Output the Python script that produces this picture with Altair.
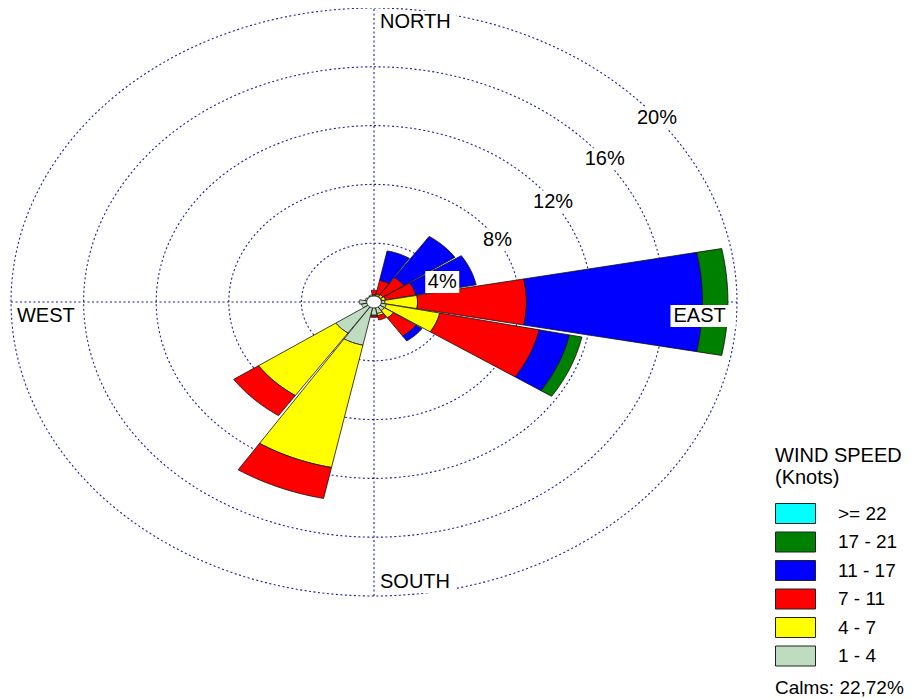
import altair as alt
import numpy as np
import pandas as pd

# ---------------- data (percent frequency) ----------------
directions = ["N", "NNE", "NE", "ENE", "E", "ESE", "SE", "SSE",
              "S", "SSW", "SW", "WSW", "W", "WNW", "NW", "NNW"]
bins = [">= 22", "17 - 21", "11 - 17", "7 - 11", "4 - 7", "1 - 4"]
bin_colors = ["#00FFFF", "#008000", "#0000FF", "#FF0000", "#FFFF00", "#C0DCC0"]

f_1_4 = [0.05, 0.05, 0.05, 0.05, 0.2, 0.3, 0.3, 0.4, 0.5, 2.6, 2.15, 0.3, 0.4, 0.1, 0.05, 0.1]
f_4_7 = [0.05, 0.1, 0.15, 0.2, 1.8, 3.0, 0.6, 0.15, 0.05, 8.5, 5.15, 0.0, 0.0, 0.0, 0.0, 0.0]
f_7_11 = [0.3, 0.95, 1.4, 1.7, 6.0, 5.6, 1.5, 0.3, 0.1, 2.15, 1.65, 0.0, 0.0, 0.0, 0.0, 0.0]
f_11_17 = [0.0, 2.05, 3.4, 3.4, 9.7, 1.7, 0.4, 0.0, 0.0, 0.0, 0.0, 0.0, 0.0, 0.0, 0.0, 0.0]
f_17_21 = [0.0, 0.0, 0.0, 0.0, 1.4, 0.7, 0.0, 0.0, 0.0, 0.0, 0.0, 0.0, 0.0, 0.0, 0.0, 0.0]
f_22 = [0.0] * 16

calms_text = "Calms: 22,72%"
rings = [4, 8, 12, 16, 20]
ring_labels = ["4%", "8%", "12%", "16%", "20%"]
ring_label_bearing = [70.0, 58.3, 55.3, 52.6, 51.2]

compass_labels = ["NORTH", "EAST", "SOUTH", "WEST"]

# stacking order from the centre outwards
stack = [("1 - 4", f_1_4), ("4 - 7", f_4_7), ("7 - 11", f_7_11),
         ("11 - 17", f_11_17), ("17 - 21", f_17_21), (">= 22", f_22)]

CALM_R = 0.4      # radius of the calm circle, in percent
HALF_W = 10.75    # half angular width of a wedge, degrees
N_ARC = 16


def polar(r, bearing_deg):
    t = np.radians(bearing_deg)
    return r * np.sin(t), r * np.cos(t)


# ---------------- geometry in data units ----------------
wedge_rows = []
for i, d in enumerate(directions):
    c = i * 22.5
    r0 = CALM_R
    for b, vals in stack:
        v = vals[i]
        if v <= 0:
            continue
        r1 = r0 + v
        angs = np.linspace(c - HALF_W, c + HALF_W, N_ARC)
        pts = [(r0, a) for a in angs] + [(r1, a) for a in angs[::-1]]
        pts.append(pts[0])
        for k, (r, a) in enumerate(pts):
            x, y = polar(r, a)
            wedge_rows.append({"pid": f"{d}|{b}", "bin": b, "k": k, "x": x, "y": y})
        r0 = r1
wedges = pd.DataFrame(wedge_rows)

ring_rows = []
for r in rings:
    for k, a in enumerate(np.arange(0, 361, 1.5)):
        x, y = polar(r, a)
        ring_rows.append({"ring": r, "k": k, "x": x, "y": y})
ring_df = pd.DataFrame(ring_rows)

calm_rows = []
for k, a in enumerate(np.arange(0, 361, 10)):
    x, y = polar(CALM_R, a)
    calm_rows.append({"k": k, "x": x, "y": y})
calm_df = pd.DataFrame(calm_rows)

axes_df = pd.DataFrame({"x": [-20, 0], "x2": [20, 0], "y": [0, -20], "y2": [0, 20]})

# scales: horizontal 18.15 px per percent, vertical 14.7 px per percent
W, H = 898, 690
PX_X, PX_Y = 18.15, 14.7
X_DOM = [-366 / PX_X, (W - 366) / PX_X]
Y_DOM = [-(H - 294) / PX_Y, 294 / PX_Y]
xs = alt.Scale(domain=X_DOM, nice=False, zero=False)
ys = alt.Scale(domain=Y_DOM, nice=False, zero=False)

# percent labels on the rings
rl_rows = []
for r, t, a in zip(rings, ring_labels, ring_label_bearing):
    x, y = polar(r, a)
    w = (len(t) * 12 + 10) / PX_X / 2
    h = 11 / PX_Y
    rl_rows.append({"t": t, "x": x, "y": y, "bx": x - w, "bx2": x + w, "by": y - h, "by2": y + h})
rl_df = pd.DataFrame(rl_rows)

# compass labels (left edge, centre line)
cp_pos = {"NORTH": (0.33, 19.05), "EAST": (16.5, -0.95), "SOUTH": (0.33, -19.05), "WEST": (-19.67, -0.95)}
cp_rows = []
for t in compass_labels:
    x, y = cp_pos[t]
    w = (len(t) * 14.3 + 5) / PX_X
    h = 11 / PX_Y
    cp_rows.append({"t": t, "x": x, "y": y, "bx": x - 3 / PX_X, "bx2": x + w, "by": y - h, "by2": y + h})
cp_df = pd.DataFrame(cp_rows)

GRID = "#1e1e9c"

ring_layer = alt.Chart(ring_df).mark_line(stroke=GRID, strokeWidth=1.1, strokeDash=[2, 2.5]).encode(
    x=alt.X("x:Q", scale=xs, axis=None),
    y=alt.Y("y:Q", scale=ys, axis=None),
    detail="ring:N",
    order="k:Q",
)

axes_layer = alt.Chart(axes_df).mark_rule(stroke=GRID, strokeWidth=1.1, strokeDash=[2, 2.5]).encode(
    x=alt.X("x:Q", scale=xs, axis=None), x2="x2:Q",
    y=alt.Y("y:Q", scale=ys, axis=None), y2="y2:Q",
)

wedge_layer = alt.Chart(wedges).mark_line(stroke="#111111", strokeWidth=0.8, strokeJoin="miter").encode(
    x=alt.X("x:Q", scale=xs, axis=None),
    y=alt.Y("y:Q", scale=ys, axis=None),
    detail="pid:N",
    order="k:Q",
    fill=alt.Fill(
        "bin:N",
        scale=alt.Scale(domain=bins, range=bin_colors),
        legend=alt.Legend(
            title=["WIND SPEED", "(Knots)"],
            orient="none", legendX=767, legendY=438,
            symbolType="M-1,-1H3V1H-1Z", symbolSize=400,
            symbolStrokeColor="#222222", symbolStrokeWidth=1,
            symbolOpacity=1,
            labelFontSize=19, labelOffset=42, labelColor="black",
            labelFont="Liberation Sans",
            titleFontSize=20, titleFontWeight="normal", titleLineHeight=22,
            titleFont="Liberation Sans", titleColor="black",
            titlePadding=15, rowPadding=3.5, padding=0,
        ),
    ),
)

calm_layer = alt.Chart(calm_df).mark_line(fill="white", stroke="#333333", strokeWidth=0.8).encode(
    x=alt.X("x:Q", scale=xs, axis=None),
    y=alt.Y("y:Q", scale=ys, axis=None),
    order="k:Q",
)

rl_box = alt.Chart(rl_df).mark_rect(color="white").encode(
    x=alt.X("bx:Q", scale=xs, axis=None), x2="bx2:Q",
    y=alt.Y("by:Q", scale=ys, axis=None), y2="by2:Q",
)
rl_text = alt.Chart(rl_df).mark_text(fontSize=20, align="center", baseline="middle", color="black").encode(
    x=alt.X("x:Q", scale=xs, axis=None),
    y=alt.Y("y:Q", scale=ys, axis=None),
    text="t:N",
)

cp_box = alt.Chart(cp_df).mark_rect(color="white").encode(
    x=alt.X("bx:Q", scale=xs, axis=None), x2="bx2:Q",
    y=alt.Y("by:Q", scale=ys, axis=None), y2="by2:Q",
)
cp_text = alt.Chart(cp_df).mark_text(fontSize=20, align="left", baseline="middle", color="black").encode(
    x=alt.X("x:Q", scale=xs, axis=None),
    y=alt.Y("y:Q", scale=ys, axis=None),
    text="t:N",
)

calm_text = alt.Chart(pd.DataFrame({"t": [calms_text]})).mark_text(
    fontSize=19, align="left", baseline="middle", color="black"
).encode(x=alt.value(767), y=alt.value(680), text="t:N")

chart = alt.layer(
    ring_layer, axes_layer, wedge_layer, calm_layer,
    rl_box, rl_text, cp_box, cp_text, calm_text,
).properties(
    width=W, height=H, padding=0,
    autosize=alt.AutoSizeParams(type="none"),
).configure(font="Liberation Sans").configure_view(stroke=None)

chart.save("out.html", embed_options={"renderer": "svg", "actions": False})
